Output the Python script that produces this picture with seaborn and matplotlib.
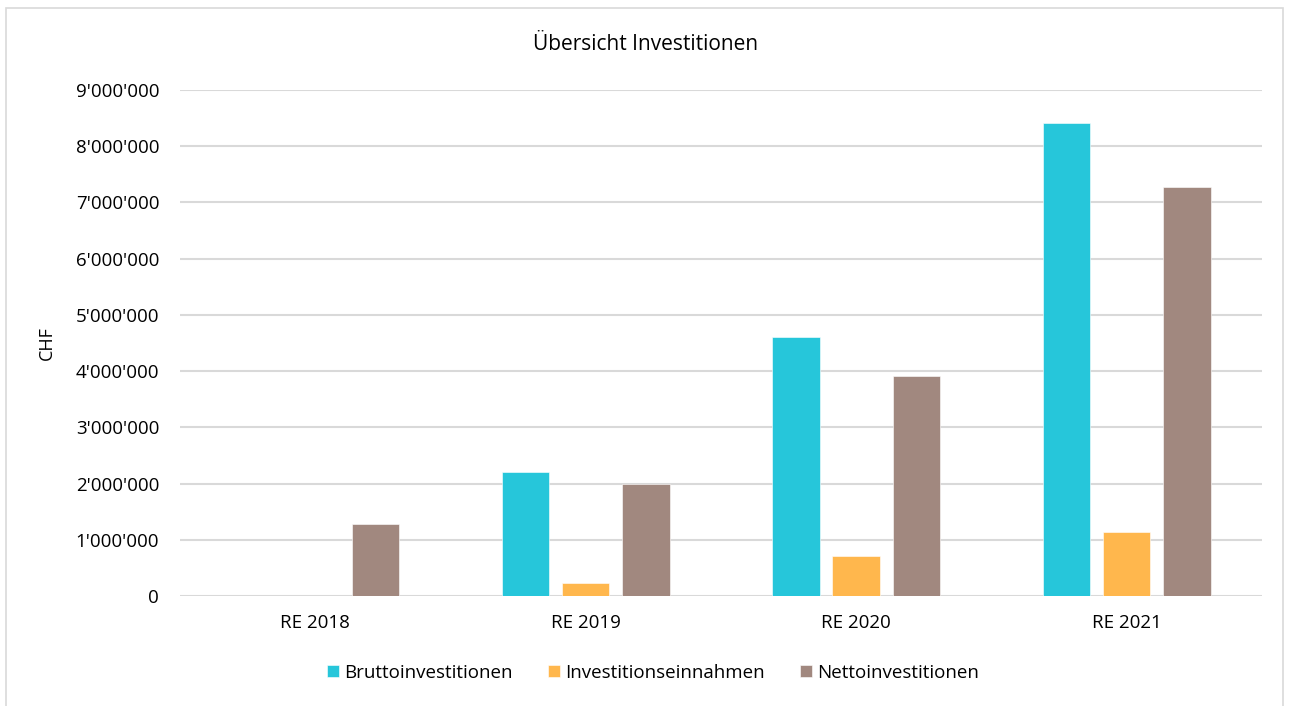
import pandas as pd
import matplotlib.pyplot as plt
from matplotlib.patches import Rectangle
from matplotlib.ticker import FuncFormatter
import seaborn as sns

# values (CHF)
years = ['RE 2018', 'RE 2019', 'RE 2020', 'RE 2021']
brutto = [0, 2210000, 4610000, 8420000]
einnahmen = [0, 230000, 710000, 1140000]
netto = [1280000, 1990000, 3910000, 7280000]

series = ['Bruttoinvestitionen', 'Investitionseinnahmen', 'Nettoinvestitionen']
colors = ['#26C6DA', '#FFB74D', '#A1887F']

df = pd.DataFrame({'Jahr': years, series[0]: brutto, series[1]: einnahmen, series[2]: netto})
df = df.melt(id_vars='Jahr', var_name='Serie', value_name='CHF')

sns.set_theme(style='white')
plt.rcParams['font.family'] = ['Open Sans', 'DejaVu Sans']

fig = plt.figure(figsize=(12.91, 7.06), dpi=100)
ax = fig.add_axes([0.1394, 0.1558, 0.8381, 0.7167])

# outer chart border
fig.patches.append(Rectangle((0.005, -0.01), 0.989, 0.998, transform=fig.transFigure,
                             fill=False, edgecolor='#D9D9D9', linewidth=1.2))

sns.barplot(data=df, x='Jahr', y='CHF', hue='Serie', hue_order=series,
            palette=colors, saturation=1, width=0.667, gap=0.21, ax=ax,
            edgecolor='white', linewidth=0.4, zorder=3)

ax.set_ylim(0, 9000000)
ax.set_xlim(-0.5, 3.5)
ax.set_yticks(range(0, 9000001, 1000000))
ax.yaxis.set_major_formatter(FuncFormatter(lambda v, p: f"{int(v):,}".replace(',', "'")))
ax.grid(axis='y', color='#D9D9D9', linewidth=1.5, zorder=0)
ax.set_axisbelow(True)
sns.despine(ax=ax, left=True, bottom=True)

ax.tick_params(axis='y', length=0, pad=15, labelsize=13.5, labelcolor='#000000')
ax.tick_params(axis='x', length=0, pad=13, labelsize=13.5, labelcolor='#000000')
ax.set_xlabel('')
ax.set_ylabel('CHF', fontsize=13, labelpad=14, color='#000000')

fig.text(0.5, 0.937, 'Übersicht Investitionen', ha='center', va='center',
         fontsize=15, color='#000000')

handles, labels = ax.get_legend_handles_labels()
ax.get_legend().remove()
fig.legend(handles, labels, loc='center', bbox_to_anchor=(0.506, 0.047), ncol=3,
           frameon=False, fontsize=13.5, handlelength=0.6, handleheight=0.6,
           handletextpad=0.3, columnspacing=1.9, labelcolor='#000000')

fig.savefig('out.png', dpi=100)
